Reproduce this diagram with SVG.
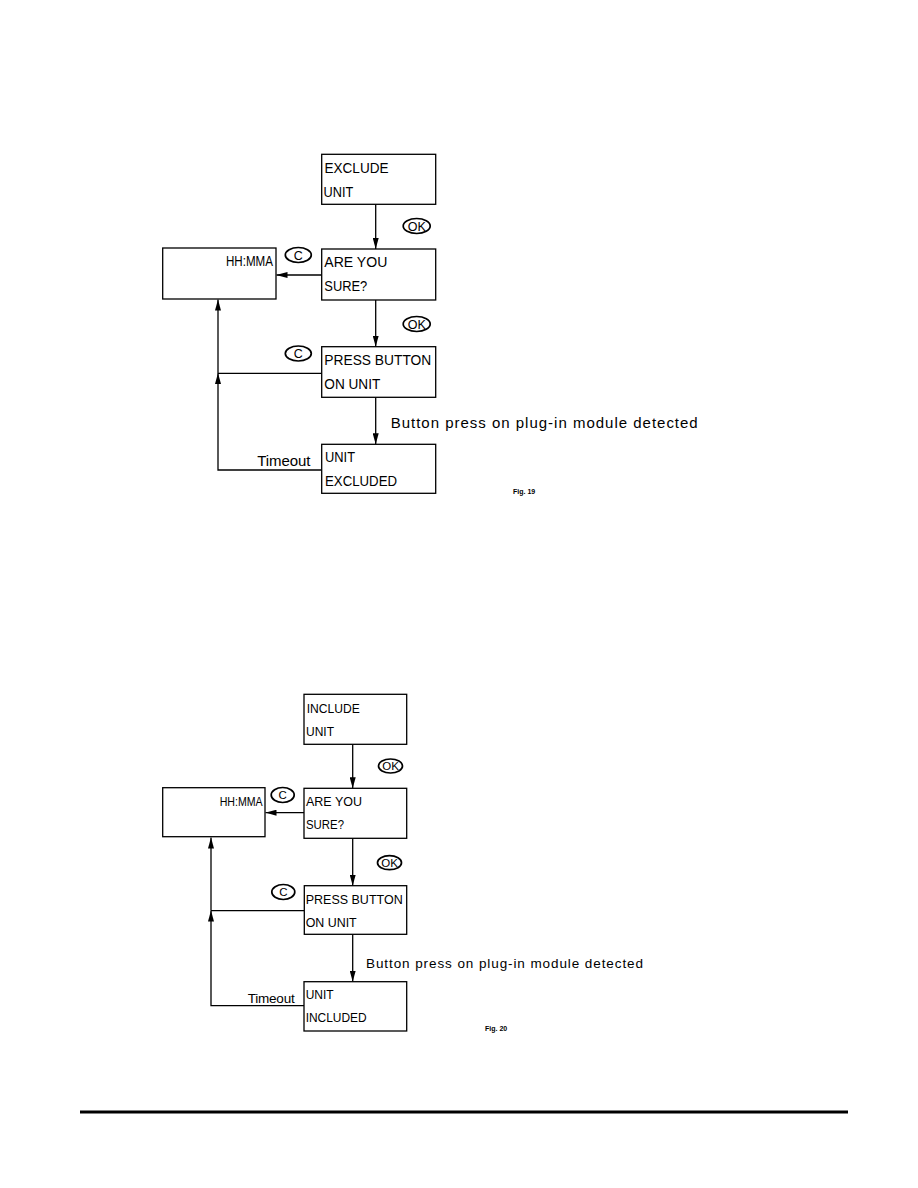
<svg xmlns="http://www.w3.org/2000/svg" width="918" height="1188" viewBox="0 0 918 1188">
<style>
.box{fill:#fff;stroke:#000;stroke-width:1.3}
.ln{fill:none;stroke:#000;stroke-width:1.3}
.t1{font-family:"Liberation Sans",Arial,sans-serif;font-size:15px;fill:#000}
.t2{font-family:"Liberation Sans",Arial,sans-serif;font-size:13.5px;fill:#000}
.btn{fill:#fff;stroke:#000;stroke-width:1.7}
.bt{font-family:"Liberation Sans",Arial,sans-serif;font-size:12.5px;fill:#000;text-anchor:middle}
.fig{font-family:"Liberation Sans",Arial,sans-serif;font-size:7px;font-weight:bold;fill:#000}
</style>
<defs>
<marker id="ah" markerUnits="userSpaceOnUse" markerWidth="11" markerHeight="6" refX="11" refY="3" orient="auto">
<path d="M0,0 L11,3 L0,6 z" fill="#000"/>
</marker>
</defs>
<rect width="918" height="1188" fill="#fff"/>

<!-- Figure 19 -->
<g id="connectors1">
<path class="ln" d="M375.7,204.3 V249" marker-end="url(#ah)"/>
<path class="ln" d="M321.7,275 H276.5" marker-end="url(#ah)"/>
<path class="ln" d="M375.7,300 V346.7" marker-end="url(#ah)"/>
<path class="ln" d="M375.7,397.3 V444.3" marker-end="url(#ah)"/>
<path class="ln" d="M321.7,373.3 H218"/>
<path class="ln" d="M321.7,470 H218 V373" marker-end="url(#ah)"/>
<path class="ln" d="M218,373 V299.5" marker-end="url(#ah)"/>
<ellipse class="btn" cx="416.7" cy="226" rx="13.5" ry="7.5"/>
<text class="bt" x="416.7" y="230.5">OK</text>
<ellipse class="btn" cx="416.7" cy="324" rx="13.5" ry="7.5"/>
<text class="bt" x="416.7" y="328.5">OK</text>
<ellipse class="btn" cx="298.3" cy="255" rx="13" ry="7.5"/>
<text class="bt" x="298.3" y="259.5">C</text>
<ellipse class="btn" cx="298.3" cy="353.5" rx="13" ry="7.5"/>
<text class="bt" x="298.3" y="358">C</text>
<text class="t1" x="390.7" y="428" textLength="307" lengthAdjust="spacing">Button press on plug-in module detected</text>
<text class="t1" x="257.3" y="466" textLength="53" lengthAdjust="spacing">Timeout</text>
</g>
<g id="exclude-unit">
<rect class="box" x="321.7" y="154.3" width="114" height="50"/>
<text class="t1" x="324.5" y="173" textLength="64" lengthAdjust="spacingAndGlyphs">EXCLUDE</text>
<text class="t1" x="323.5" y="197" textLength="29.7" lengthAdjust="spacingAndGlyphs">UNIT</text>
</g>
<g id="are-you-sure-1">
<rect class="box" x="321.7" y="249" width="114" height="51"/>
<text class="t1" x="324.3" y="267" textLength="63" lengthAdjust="spacingAndGlyphs">ARE YOU</text>
<text class="t1" x="324.3" y="291" textLength="43" lengthAdjust="spacingAndGlyphs">SURE?</text>
</g>
<g id="hhmma-1">
<rect class="box" x="162.7" y="248" width="113.3" height="51"/>
<text class="t1" x="226" y="266" textLength="47" lengthAdjust="spacingAndGlyphs">HH:MMA</text>
</g>
<g id="press-button-1">
<rect class="box" x="321.7" y="346.7" width="114" height="50.6"/>
<text class="t1" x="324.3" y="365" textLength="107" lengthAdjust="spacingAndGlyphs">PRESS BUTTON</text>
<text class="t1" x="324.3" y="388.5" textLength="56" lengthAdjust="spacingAndGlyphs">ON UNIT</text>
</g>
<g id="unit-excluded">
<rect class="box" x="321.7" y="444.3" width="114" height="49"/>
<text class="t1" x="325" y="462" textLength="30" lengthAdjust="spacingAndGlyphs">UNIT</text>
<text class="t1" x="325" y="485.5" textLength="72" lengthAdjust="spacingAndGlyphs">EXCLUDED</text>
</g>
<text class="fig" x="513" y="494">Fig. 19</text>

<!-- Figure 20 -->
<g id="connectors2">
<path class="ln" d="M352.7,744.3 V788.3" marker-end="url(#ah)"/>
<path class="ln" d="M304,812.7 H265.5" marker-end="url(#ah)"/>
<path class="ln" d="M352.7,838.3 V885.7" marker-end="url(#ah)"/>
<path class="ln" d="M352.7,934.3 V981.7" marker-end="url(#ah)"/>
<path class="ln" d="M304,910.7 H211"/>
<path class="ln" d="M304,1005.7 H211 V910.5" marker-end="url(#ah)"/>
<path class="ln" d="M211,910.5 V837.5" marker-end="url(#ah)"/>
<ellipse class="btn" cx="390.5" cy="766" rx="12" ry="7"/>
<text class="bt" x="390.5" y="770" style="font-size:11.5px">OK</text>
<ellipse class="btn" cx="389.5" cy="862.7" rx="12" ry="7"/>
<text class="bt" x="389.5" y="866.7" style="font-size:11.5px">OK</text>
<ellipse class="btn" cx="282.7" cy="795" rx="11.5" ry="7.5"/>
<text class="bt" x="282.7" y="799" style="font-size:11.5px">C</text>
<ellipse class="btn" cx="283.3" cy="892" rx="11.5" ry="7.5"/>
<text class="bt" x="283.3" y="896" style="font-size:11.5px">C</text>
<text class="t2" x="366" y="968" textLength="277" lengthAdjust="spacing">Button press on plug-in module detected</text>
<text class="t2" x="247.7" y="1003" textLength="47" lengthAdjust="spacing">Timeout</text>
</g>
<g id="include-unit">
<rect class="box" x="304" y="694.3" width="102.7" height="50"/>
<text class="t2" x="306.7" y="712.5" textLength="53" lengthAdjust="spacingAndGlyphs">INCLUDE</text>
<text class="t2" x="306" y="736" textLength="28" lengthAdjust="spacingAndGlyphs">UNIT</text>
</g>
<g id="are-you-sure-2">
<rect class="box" x="304" y="788.3" width="102.7" height="50"/>
<text class="t2" x="306" y="806" textLength="56" lengthAdjust="spacingAndGlyphs">ARE YOU</text>
<text class="t2" x="306" y="829" textLength="38" lengthAdjust="spacingAndGlyphs">SURE?</text>
</g>
<g id="hhmma-2">
<rect class="box" x="162.7" y="787.7" width="102.3" height="49"/>
<text class="t2" x="219.7" y="806" textLength="43" lengthAdjust="spacingAndGlyphs">HH:MMA</text>
</g>
<g id="press-button-2">
<rect class="box" x="304.3" y="885.7" width="102.4" height="48.6"/>
<text class="t2" x="305.7" y="903.5" textLength="97" lengthAdjust="spacingAndGlyphs">PRESS BUTTON</text>
<text class="t2" x="305.7" y="926.5" textLength="51" lengthAdjust="spacingAndGlyphs">ON UNIT</text>
</g>
<g id="unit-included">
<rect class="box" x="304" y="981.7" width="102.7" height="49.3"/>
<text class="t2" x="305.7" y="998.5" textLength="28" lengthAdjust="spacingAndGlyphs">UNIT</text>
<text class="t2" x="305.7" y="1022" textLength="61" lengthAdjust="spacingAndGlyphs">INCLUDED</text>
</g>
<text class="fig" x="485" y="1031">Fig. 20</text>

<line x1="80" y1="1112" x2="848" y2="1112" stroke="#000" stroke-width="3"/>
</svg>
